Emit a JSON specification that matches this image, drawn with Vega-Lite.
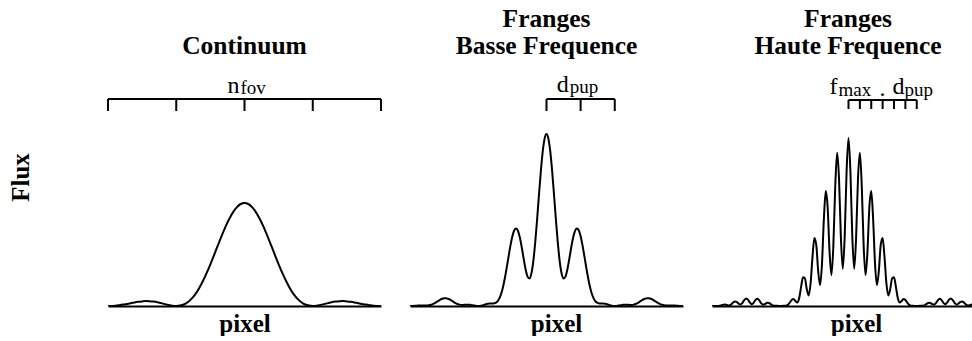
{
  "$schema": "https://vega.github.io/schema/vega-lite/v6.json",
  "padding": {"left": 8, "top": 7, "right": 0, "bottom": 0},
  "background": "white",
  "config": {
    "view": {"stroke": null},
    "font": "Liberation Serif",
    "axis": {"ticks": false, "labels": false, "grid": false, "titleFont": "Liberation Serif", "titleFontSize": 25, "titleFontWeight": "bold", "titleColor": "black", "domainColor": "black", "domainWidth": 2},
    "axisX": {"titlePadding": 5},
    "axisY": {"domain": false, "titlePadding": 75, "titleY": 111}
  },
  "bounds": "flush",
  "spacing": 29,
  "datasets": {
    "cont": [
      {"pos":-72,"flux":0},{"pos":-70,"flux":0.1},{"pos":-68,"flux":0.3},{"pos":-66,"flux":0.8},{"pos":-64,"flux":1.4},{"pos":-62,"flux":2.1},{"pos":-60,"flux":2.8},{"pos":-58,"flux":3.6},{"pos":-56,"flux":4.2},{"pos":-54,"flux":4.6},{"pos":-52,"flux":4.9},{"pos":-50,"flux":4.8},{"pos":-48,"flux":4.4},{"pos":-46,"flux":3.8},{"pos":-44,"flux":2.9},{"pos":-42,"flux":1.9},{"pos":-40,"flux":1.0},{"pos":-38,"flux":0.3},{"pos":-36,"flux":0},{"pos":-34,"flux":0.4},{"pos":-32,"flux":1.5},{"pos":-30,"flux":3.8},{"pos":-28,"flux":7.1},{"pos":-26,"flux":11.7},{"pos":-24,"flux":17.6},{"pos":-22,"flux":24.7},{"pos":-20,"flux":32.8},{"pos":-18,"flux":41.7},{"pos":-16,"flux":51.2},{"pos":-14,"flux":60.9},{"pos":-12,"flux":70.4},{"pos":-10,"flux":79.4},{"pos":-8,"flux":87.3},{"pos":-6,"flux":93.9},{"pos":-4,"flux":98.9},{"pos":-2,"flux":102.0},
      {"pos":0,"flux":103},
      {"pos":2,"flux":102.0},{"pos":4,"flux":98.9},{"pos":6,"flux":93.9},{"pos":8,"flux":87.3},{"pos":10,"flux":79.4},{"pos":12,"flux":70.4},{"pos":14,"flux":60.9},{"pos":16,"flux":51.2},{"pos":18,"flux":41.7},{"pos":20,"flux":32.8},{"pos":22,"flux":24.7},{"pos":24,"flux":17.6},{"pos":26,"flux":11.7},{"pos":28,"flux":7.1},{"pos":30,"flux":3.8},{"pos":32,"flux":1.5},{"pos":34,"flux":0.4},{"pos":36,"flux":0},{"pos":38,"flux":0.3},{"pos":40,"flux":1.0},{"pos":42,"flux":1.9},{"pos":44,"flux":2.9},{"pos":46,"flux":3.8},{"pos":48,"flux":4.4},{"pos":50,"flux":4.8},{"pos":52,"flux":4.9},{"pos":54,"flux":4.6},{"pos":56,"flux":4.2},{"pos":58,"flux":3.6},{"pos":60,"flux":2.8},{"pos":62,"flux":2.1},{"pos":64,"flux":1.4},{"pos":66,"flux":0.8},{"pos":68,"flux":0.3},{"pos":70,"flux":0.1},{"pos":72,"flux":0}
    ],
    "basse": [
      {"pos":-72,"flux":0},{"pos":-71,"flux":0},{"pos":-70,"flux":0.1},{"pos":-69,"flux":0.3},{"pos":-68,"flux":0.4},{"pos":-67,"flux":0.5},{"pos":-66,"flux":0.5},{"pos":-65,"flux":0.5},{"pos":-64,"flux":0.5},{"pos":-63,"flux":0.6},{"pos":-62,"flux":0.8},{"pos":-61,"flux":1.2},{"pos":-60,"flux":1.9},{"pos":-59,"flux":2.8},{"pos":-58,"flux":4.0},{"pos":-57,"flux":5.2},{"pos":-56,"flux":6.3},{"pos":-55,"flux":7.2},{"pos":-54,"flux":7.7},{"pos":-53,"flux":7.8},{"pos":-52,"flux":7.3},{"pos":-51,"flux":6.5},{"pos":-50,"flux":5.3},{"pos":-49,"flux":4.1},{"pos":-48,"flux":2.9},{"pos":-47,"flux":2.0},{"pos":-46,"flux":1.4},{"pos":-45,"flux":1.1},{"pos":-44,"flux":1.1},{"pos":-43,"flux":1.2},{"pos":-42,"flux":1.3},{"pos":-41,"flux":1.3},{"pos":-40,"flux":1.1},{"pos":-39,"flux":0.8},{"pos":-38,"flux":0.4},{"pos":-37,"flux":0.1},{"pos":-36,"flux":0},{"pos":-35,"flux":0.1},{"pos":-34,"flux":0.5},{"pos":-33,"flux":1.1},{"pos":-32,"flux":1.7},{"pos":-31,"flux":2.2},{"pos":-30,"flux":2.5},{"pos":-29,"flux":2.6},{"pos":-28,"flux":2.6},{"pos":-27,"flux":3.1},{"pos":-26,"flux":4.3},{"pos":-25,"flux":7.1},{"pos":-24,"flux":11.7},{"pos":-23,"flux":18.6},{"pos":-22,"flux":27.5},{"pos":-21,"flux":38.2},{"pos":-20,"flux":49.6},{"pos":-19,"flux":60.6},{"pos":-18,"flux":69.7},{"pos":-17,"flux":75.7},{"pos":-16,"flux":77.5},{"pos":-15,"flux":74.9},{"pos":-14,"flux":68.0},{"pos":-13,"flux":58.1},{"pos":-12,"flux":46.8},{"pos":-11,"flux":36.5},{"pos":-10,"flux":29.4},{"pos":-9,"flux":27.6},{"pos":-8,"flux":32.3},{"pos":-7,"flux":44.2},{"pos":-6,"flux":62.5},{"pos":-5,"flux":85.4},{"pos":-4,"flux":110.4},{"pos":-3,"flux":134.4},{"pos":-2,"flux":154.3},{"pos":-1,"flux":167.4},
      {"pos":0,"flux":172.0},
      {"pos":1,"flux":167.4},{"pos":2,"flux":154.3},{"pos":3,"flux":134.4},{"pos":4,"flux":110.4},{"pos":5,"flux":85.4},{"pos":6,"flux":62.5},{"pos":7,"flux":44.2},{"pos":8,"flux":32.3},{"pos":9,"flux":27.6},{"pos":10,"flux":29.4},{"pos":11,"flux":36.5},{"pos":12,"flux":46.8},{"pos":13,"flux":58.1},{"pos":14,"flux":68.0},{"pos":15,"flux":74.9},{"pos":16,"flux":77.5},{"pos":17,"flux":75.7},{"pos":18,"flux":69.7},{"pos":19,"flux":60.6},{"pos":20,"flux":49.6},{"pos":21,"flux":38.2},{"pos":22,"flux":27.5},{"pos":23,"flux":18.6},{"pos":24,"flux":11.7},{"pos":25,"flux":7.1},{"pos":26,"flux":4.3},{"pos":27,"flux":3.1},{"pos":28,"flux":2.6},{"pos":29,"flux":2.6},{"pos":30,"flux":2.5},{"pos":31,"flux":2.2},{"pos":32,"flux":1.7},{"pos":33,"flux":1.1},{"pos":34,"flux":0.5},{"pos":35,"flux":0.1},{"pos":36,"flux":0},{"pos":37,"flux":0.1},{"pos":38,"flux":0.4},{"pos":39,"flux":0.8},{"pos":40,"flux":1.1},{"pos":41,"flux":1.3},{"pos":42,"flux":1.3},{"pos":43,"flux":1.2},{"pos":44,"flux":1.1},{"pos":45,"flux":1.1},{"pos":46,"flux":1.4},{"pos":47,"flux":2.0},{"pos":48,"flux":2.9},{"pos":49,"flux":4.1},{"pos":50,"flux":5.3},{"pos":51,"flux":6.5},{"pos":52,"flux":7.3},{"pos":53,"flux":7.8},{"pos":54,"flux":7.7},{"pos":55,"flux":7.2},{"pos":56,"flux":6.3},{"pos":57,"flux":5.2},{"pos":58,"flux":4.0},{"pos":59,"flux":2.8},{"pos":60,"flux":1.9},{"pos":61,"flux":1.2},{"pos":62,"flux":0.8},{"pos":63,"flux":0.6},{"pos":64,"flux":0.5},{"pos":65,"flux":0.5},{"pos":66,"flux":0.5},{"pos":67,"flux":0.5},{"pos":68,"flux":0.4},{"pos":69,"flux":0.3},{"pos":70,"flux":0.1},{"pos":71,"flux":0},{"pos":72,"flux":0}
    ],
    "haute": [
      {"pos":-72,"flux":0},{"pos":-71,"flux":0},{"pos":-70,"flux":0},{"pos":-69,"flux":0.1},{"pos":-68,"flux":0.2},{"pos":-67,"flux":0.7},{"pos":-66,"flux":1.3},{"pos":-65,"flux":1.4},{"pos":-64,"flux":0.9},{"pos":-63,"flux":0.6},{"pos":-62,"flux":1.4},{"pos":-61,"flux":3.2},{"pos":-60,"flux":4.6},{"pos":-59,"flux":4.2},{"pos":-58,"flux":2.4},{"pos":-57,"flux":1.4},{"pos":-56,"flux":2.9},{"pos":-55,"flux":5.8},{"pos":-54,"flux":7.6},{"pos":-53,"flux":6.3},{"pos":-52,"flux":3.3},{"pos":-51,"flux":1.8},{"pos":-50,"flux":3.3},{"pos":-49,"flux":6.1},{"pos":-48,"flux":7.2},{"pos":-47,"flux":5.4},{"pos":-46,"flux":2.6},{"pos":-45,"flux":1.2},{"pos":-44,"flux":2.0},{"pos":-43,"flux":3.2},{"pos":-42,"flux":3.1},{"pos":-41,"flux":1.9},{"pos":-40,"flux":0.7},{"pos":-39,"flux":0.2},{"pos":-38,"flux":0.2},{"pos":-37,"flux":0.1},{"pos":-36,"flux":0},{"pos":-35,"flux":0.1},{"pos":-34,"flux":0.2},{"pos":-33,"flux":0.3},{"pos":-32,"flux":1.1},{"pos":-31,"flux":3.3},{"pos":-30,"flux":6.1},{"pos":-29,"flux":7.0},{"pos":-28,"flux":4.9},{"pos":-27,"flux":3.4},{"pos":-26,"flux":8.0},{"pos":-25,"flux":19.1},{"pos":-24,"flux":28.7},{"pos":-23,"flux":27.6},{"pos":-22,"flux":16.9},{"pos":-21,"flux":10.6},{"pos":-20,"flux":22.5},{"pos":-19,"flux":48.9},{"pos":-18,"flux":68.1},{"pos":-17,"flux":61.1},{"pos":-16,"flux":35.1},{"pos":-15,"flux":20.8},{"pos":-14,"flux":41.8},{"pos":-13,"flux":86.5},{"pos":-12,"flux":114.9},{"pos":-11,"flux":98.7},{"pos":-10,"flux":54.4},{"pos":-9,"flux":30.9},{"pos":-8,"flux":59.8},{"pos":-7,"flux":119.5},{"pos":-6,"flux":153.2},{"pos":-5,"flux":127.1},{"pos":-4,"flux":67.8},{"pos":-3,"flux":37.3},{"pos":-2,"flux":69.9},{"pos":-1,"flux":135.2},
      {"pos":0,"flux":168.0},
      {"pos":1,"flux":135.2},{"pos":2,"flux":69.9},{"pos":3,"flux":37.3},{"pos":4,"flux":67.8},{"pos":5,"flux":127.1},{"pos":6,"flux":153.2},{"pos":7,"flux":119.5},{"pos":8,"flux":59.8},{"pos":9,"flux":30.9},{"pos":10,"flux":54.4},{"pos":11,"flux":98.7},{"pos":12,"flux":114.9},{"pos":13,"flux":86.5},{"pos":14,"flux":41.8},{"pos":15,"flux":20.8},{"pos":16,"flux":35.1},{"pos":17,"flux":61.1},{"pos":18,"flux":68.1},{"pos":19,"flux":48.9},{"pos":20,"flux":22.5},{"pos":21,"flux":10.6},{"pos":22,"flux":16.9},{"pos":23,"flux":27.6},{"pos":24,"flux":28.7},{"pos":25,"flux":19.1},{"pos":26,"flux":8.0},{"pos":27,"flux":3.4},{"pos":28,"flux":4.9},{"pos":29,"flux":7.0},{"pos":30,"flux":6.1},{"pos":31,"flux":3.3},{"pos":32,"flux":1.1},{"pos":33,"flux":0.3},{"pos":34,"flux":0.2},{"pos":35,"flux":0.1},{"pos":36,"flux":0},{"pos":37,"flux":0.1},{"pos":38,"flux":0.2},{"pos":39,"flux":0.2},{"pos":40,"flux":0.7},{"pos":41,"flux":1.9},{"pos":42,"flux":3.1},{"pos":43,"flux":3.2},{"pos":44,"flux":2.0},{"pos":45,"flux":1.2},{"pos":46,"flux":2.6},{"pos":47,"flux":5.4},{"pos":48,"flux":7.2},{"pos":49,"flux":6.1},{"pos":50,"flux":3.3},{"pos":51,"flux":1.8},{"pos":52,"flux":3.3},{"pos":53,"flux":6.3},{"pos":54,"flux":7.6},{"pos":55,"flux":5.8},{"pos":56,"flux":2.9},{"pos":57,"flux":1.4},{"pos":58,"flux":2.4},{"pos":59,"flux":4.2},{"pos":60,"flux":4.6},{"pos":61,"flux":3.2},{"pos":62,"flux":1.4},{"pos":63,"flux":0.6},{"pos":64,"flux":0.9},{"pos":65,"flux":1.4},{"pos":66,"flux":1.3}
    ],
    "ticksCont": [{"pos":-72},{"pos":-36},{"pos":0},{"pos":36},{"pos":72}],
    "ticksBasse": [{"pos":0},{"pos":18},{"pos":36}],
    "ticksHaute": [{"pos":0},{"pos":6},{"pos":12},{"pos":18},{"pos":24},{"pos":30},{"pos":36}],
    "one": [{}]
  },
  "hconcat": [
    {
      "width": 273,
      "height": 240,
      "title": {"text": "Continuum", "fontSize": 25.5, "font": "Liberation Serif", "fontWeight": "bold", "color": "black", "offset": 7, "lineHeight": 26.5, "anchor": "middle"},
      "layer": [
        {
          "data": {"name": "cont"},
          "mark": {"type": "line", "color": "black", "strokeWidth": 2, "interpolate": "monotone", "clip": true},
          "encoding": {
            "x": {"field": "pos", "type": "quantitative", "scale": {"domain": [-72, 72], "nice": false, "zero": false}, "axis": {"title": "pixel"}},
            "y": {"field": "flux", "type": "quantitative", "scale": {"domain": [0, 240], "nice": false}, "axis": {"title": "Flux"}}
          }
        },
        {
          "data": {"name": "ticksCont"},
          "mark": {"type": "rule", "color": "black", "strokeWidth": 2},
          "encoding": {
            "x": {"aggregate": "min", "field": "pos", "type": "quantitative", "scale": {"domain": [-72, 72], "nice": false, "zero": false}, "axis": {"title": "pixel"}},
            "x2": {"aggregate": "max", "field": "pos"},
            "y": {"datum": 207, "type": "quantitative", "scale": {"domain": [0, 240], "nice": false}, "axis": {"title": "Flux"}}
          }
        },
        {
          "data": {"name": "ticksCont"},
          "mark": {"type": "rule", "color": "black", "strokeWidth": 2},
          "encoding": {
            "x": {"field": "pos", "type": "quantitative", "scale": {"domain": [-72, 72], "nice": false, "zero": false}, "axis": {"title": "pixel"}},
            "y": {"datum": 207, "type": "quantitative", "scale": {"domain": [0, 240], "nice": false}, "axis": {"title": "Flux"}},
            "y2": {"datum": 195}
          }
        },
        {
          "data": {"name": "one"},
          "mark": {"type": "text", "text": "n", "font": "Liberation Serif", "fontSize": 24, "color": "black", "align": "right", "baseline": "alphabetic", "dx": -5},
          "encoding": {
            "x": {"datum": 0, "type": "quantitative", "scale": {"domain": [-72, 72], "nice": false, "zero": false}, "axis": {"title": "pixel"}},
            "y": {"datum": 213, "type": "quantitative", "scale": {"domain": [0, 240], "nice": false}, "axis": {"title": "Flux"}}
          }
        },
        {
          "data": {"name": "one"},
          "mark": {"type": "text", "text": "fov", "font": "Liberation Serif", "fontSize": 19, "color": "black", "align": "left", "baseline": "alphabetic", "dx": -4},
          "encoding": {
            "x": {"datum": 0, "type": "quantitative", "scale": {"domain": [-72, 72], "nice": false, "zero": false}, "axis": {"title": "pixel"}},
            "y": {"datum": 212, "type": "quantitative", "scale": {"domain": [0, 240], "nice": false}, "axis": {"title": "Flux"}}
          }
        }
      ]
    },
    {
      "width": 273,
      "height": 240,
      "title": {"text": ["Franges", "Basse Frequence"], "fontSize": 25.5, "font": "Liberation Serif", "fontWeight": "bold", "color": "black", "offset": 7, "lineHeight": 26.5, "anchor": "middle"},
      "layer": [
        {
          "data": {"name": "basse"},
          "mark": {"type": "line", "color": "black", "strokeWidth": 2, "interpolate": "monotone", "clip": true},
          "encoding": {
            "x": {"field": "pos", "type": "quantitative", "scale": {"domain": [-72, 72], "nice": false, "zero": false}, "axis": {"title": "pixel", "titleX": 146}},
            "y": {"field": "flux", "type": "quantitative", "scale": {"domain": [0, 240], "nice": false}, "axis": null}
          }
        },
        {
          "data": {"name": "ticksBasse"},
          "mark": {"type": "rule", "color": "black", "strokeWidth": 2},
          "encoding": {
            "x": {"aggregate": "min", "field": "pos", "type": "quantitative", "scale": {"domain": [-72, 72], "nice": false, "zero": false}, "axis": {"title": "pixel", "titleX": 146}},
            "x2": {"aggregate": "max", "field": "pos"},
            "y": {"datum": 207, "type": "quantitative", "scale": {"domain": [0, 240], "nice": false}, "axis": null}
          }
        },
        {
          "data": {"name": "ticksBasse"},
          "mark": {"type": "rule", "color": "black", "strokeWidth": 2},
          "encoding": {
            "x": {"field": "pos", "type": "quantitative", "scale": {"domain": [-72, 72], "nice": false, "zero": false}, "axis": {"title": "pixel", "titleX": 146}},
            "y": {"datum": 207, "type": "quantitative", "scale": {"domain": [0, 240], "nice": false}, "axis": null},
            "y2": {"datum": 195}
          }
        },
        {
          "data": {"name": "one"},
          "mark": {"type": "text", "text": "d", "font": "Liberation Serif", "fontSize": 24, "color": "black", "align": "right", "baseline": "alphabetic", "dx": -12},
          "encoding": {
            "x": {"datum": 18, "type": "quantitative", "scale": {"domain": [-72, 72], "nice": false, "zero": false}, "axis": {"title": "pixel", "titleX": 146}},
            "y": {"datum": 214, "type": "quantitative", "scale": {"domain": [0, 240], "nice": false}, "axis": null}
          }
        },
        {
          "data": {"name": "one"},
          "mark": {"type": "text", "text": "pup", "font": "Liberation Serif", "fontSize": 19, "color": "black", "align": "left", "baseline": "alphabetic", "dx": -11},
          "encoding": {
            "x": {"datum": 18, "type": "quantitative", "scale": {"domain": [-72, 72], "nice": false, "zero": false}, "axis": {"title": "pixel", "titleX": 146}},
            "y": {"datum": 213, "type": "quantitative", "scale": {"domain": [0, 240], "nice": false}, "axis": null}
          }
        }
      ]
    },
    {
      "width": 260,
      "height": 240,
      "title": {"text": ["Franges", "Haute Frequence"], "fontSize": 25.5, "font": "Liberation Serif", "fontWeight": "bold", "color": "black", "offset": 7, "lineHeight": 26.5, "anchor": "middle", "dx": 6},
      "layer": [
        {
          "data": {"name": "haute"},
          "mark": {"type": "line", "color": "black", "strokeWidth": 2, "interpolate": "monotone", "clip": true},
          "encoding": {
            "x": {"field": "pos", "type": "quantitative", "scale": {"domain": [-72, 65.14], "nice": false, "zero": false}, "axis": {"title": "pixel", "titleX": 144}},
            "y": {"field": "flux", "type": "quantitative", "scale": {"domain": [0, 240], "nice": false}, "axis": null}
          }
        },
        {
          "data": {"name": "ticksHaute"},
          "mark": {"type": "rule", "color": "black", "strokeWidth": 2},
          "encoding": {
            "x": {"aggregate": "min", "field": "pos", "type": "quantitative", "scale": {"domain": [-72, 65.14], "nice": false, "zero": false}, "axis": {"title": "pixel", "titleX": 144}},
            "x2": {"aggregate": "max", "field": "pos"},
            "y": {"datum": 206, "type": "quantitative", "scale": {"domain": [0, 240], "nice": false}, "axis": null}
          }
        },
        {
          "data": {"name": "ticksHaute"},
          "mark": {"type": "rule", "color": "black", "strokeWidth": 2},
          "encoding": {
            "x": {"field": "pos", "type": "quantitative", "scale": {"domain": [-72, 65.14], "nice": false, "zero": false}, "axis": {"title": "pixel", "titleX": 144}},
            "y": {"datum": 206, "type": "quantitative", "scale": {"domain": [0, 240], "nice": false}, "axis": null},
            "y2": {"datum": 197}
          }
        },
        {
          "data": {"name": "one"},
          "mark": {"type": "text", "text": "f", "font": "Liberation Serif", "fontSize": 24, "color": "black", "align": "left", "baseline": "alphabetic", "dx": -19},
          "encoding": {
            "x": {"datum": 0, "type": "quantitative", "scale": {"domain": [-72, 65.14], "nice": false, "zero": false}, "axis": {"title": "pixel", "titleX": 144}},
            "y": {"datum": 212, "type": "quantitative", "scale": {"domain": [0, 240], "nice": false}, "axis": null}
          }
        },
        {
          "data": {"name": "one"},
          "mark": {"type": "text", "text": "max", "font": "Liberation Serif", "fontSize": 19, "color": "black", "align": "left", "baseline": "alphabetic", "dx": -10},
          "encoding": {
            "x": {"datum": 0, "type": "quantitative", "scale": {"domain": [-72, 65.14], "nice": false, "zero": false}, "axis": {"title": "pixel", "titleX": 144}},
            "y": {"datum": 210, "type": "quantitative", "scale": {"domain": [0, 240], "nice": false}, "axis": null}
          }
        },
        {
          "data": {"name": "one"},
          "mark": {"type": "text", "text": ".", "font": "Liberation Serif", "fontSize": 24, "color": "black", "align": "center", "baseline": "alphabetic", "dx": 34},
          "encoding": {
            "x": {"datum": 0, "type": "quantitative", "scale": {"domain": [-72, 65.14], "nice": false, "zero": false}, "axis": {"title": "pixel", "titleX": 144}},
            "y": {"datum": 210, "type": "quantitative", "scale": {"domain": [0, 240], "nice": false}, "axis": null}
          }
        },
        {
          "data": {"name": "one"},
          "mark": {"type": "text", "text": "d", "font": "Liberation Serif", "fontSize": 24, "color": "black", "align": "left", "baseline": "alphabetic", "dx": 44},
          "encoding": {
            "x": {"datum": 0, "type": "quantitative", "scale": {"domain": [-72, 65.14], "nice": false, "zero": false}, "axis": {"title": "pixel", "titleX": 144}},
            "y": {"datum": 212, "type": "quantitative", "scale": {"domain": [0, 240], "nice": false}, "axis": null}
          }
        },
        {
          "data": {"name": "one"},
          "mark": {"type": "text", "text": "pup", "font": "Liberation Serif", "fontSize": 19, "color": "black", "align": "left", "baseline": "alphabetic", "dx": 56},
          "encoding": {
            "x": {"datum": 0, "type": "quantitative", "scale": {"domain": [-72, 65.14], "nice": false, "zero": false}, "axis": {"title": "pixel", "titleX": 144}},
            "y": {"datum": 210, "type": "quantitative", "scale": {"domain": [0, 240], "nice": false}, "axis": null}
          }
        }
      ]
    }
  ]
}
